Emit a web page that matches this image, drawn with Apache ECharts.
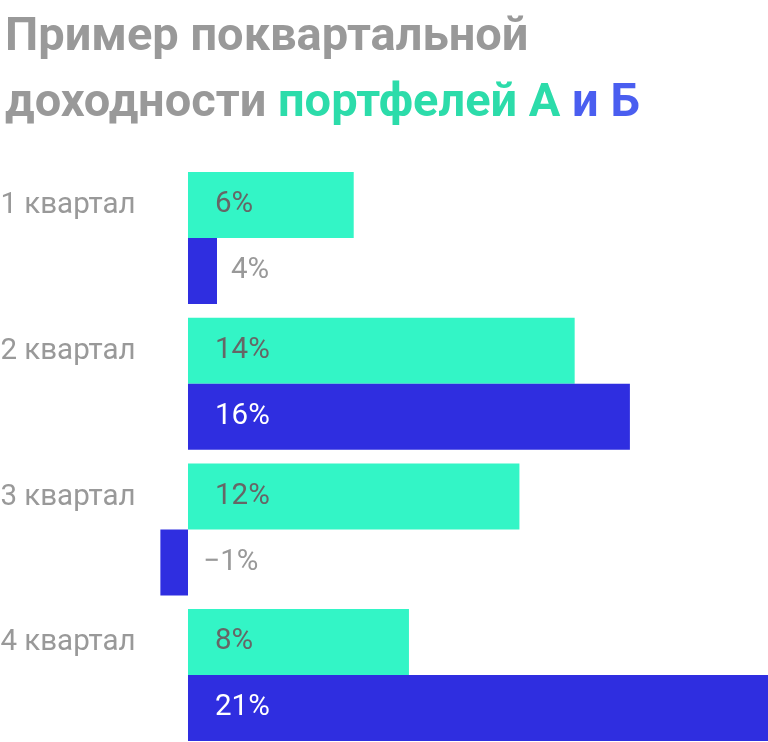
<!DOCTYPE html>
<html lang="ru" style="height: 100%">
  <head>
    <meta charset="utf-8" />
  </head>
  <body style="height: 100%; margin: 0; background: #fff">
    <div id="container" style="width: 768px; height: 742px"></div>

    <script
      type="text/javascript"
      src="https://cdn.jsdelivr.net/npm/echarts@6/dist/echarts.min.js"
    ></script>

    <script type="text/javascript">
      var quarters = ["1 квартал", "2 квартал", "3 квартал", "4 квартал"];
      // bar lengths as drawn in the picture (%)
      var portfolioA = [6, 14, 12, 8];
      var portfolioB = [1.05, 16, -1, 21];
      // texts printed on the bars
      var labelsA = ["6%", "14%", "12%", "8%"];
      var labelsB = ["4%", "16%", "−1%", "21%"];

      var teal = "#33f5c6";
      var blue = "#2f2ee0";

      var dom = document.getElementById("container");
      var myChart = echarts.init(dom, null, { renderer: "canvas" });

      function makeData(values, labels, insideColor) {
        return values.map(function (v, i) {
          var item = { value: v, label: { formatter: labels[i], color: insideColor } };
          if (v > 0 && v < 3) {
            item.label.position = "right";
            item.label.distance = 14;
            item.label.color = "#999";
          } else if (v < 0) {
            item.label.position = "insideLeft";
            item.label.distance = 43;
            item.label.color = "#999";
          }
          return item;
        });
      }

      var labelBase = {
        show: true,
        position: "insideLeft",
        distance: 27,
        fontFamily: "Roboto",
        fontSize: 29.5,
      };

      var option = {
        animation: false,
        title: {
          left: 0,
          top: 0,
          text:
            "{g|Пример поквартальной}\n{g|доходности }{a|портфелей А}{g| }{b|и Б}",
          textStyle: {
            rich: {
              g: { fontFamily: "Roboto", fontWeight: "bold", fontSize: 47, lineHeight: 66, color: "#999999" },
              a: { fontFamily: "Roboto", fontWeight: "bold", fontSize: 47, lineHeight: 66, color: "#2cdcaa" },
              b: { fontFamily: "Roboto", fontWeight: "bold", fontSize: 47, lineHeight: 66, color: "#4a5ef0" },
            },
          },
        },
        grid: {
          left: 160.38,
          width: 607.62,
          top: 165.2,
          height: 582.7,
          outerBoundsMode: "none",
          containLabel: false,
        },
        xAxis: {
          type: "value",
          min: -1,
          max: 21,
          show: false,
        },
        yAxis: {
          type: "category",
          data: quarters,
          inverse: true,
          axisLine: { show: false },
          axisTick: { show: false },
          splitLine: { show: false },
          axisLabel: {
            align: "left",
            margin: 160,
            verticalAlign: "bottom",
            lineHeight: 64,
            fontFamily: "Roboto",
            fontSize: 29.5,
            color: "#999999",
          },
        },
        series: [
          {
            name: "А",
            type: "bar",
            barWidth: 66,
            barGap: "0%",
            itemStyle: { color: teal },
            label: labelBase,
            data: makeData(portfolioA, labelsA, "#666666"),
          },
          {
            name: "Б",
            type: "bar",
            barWidth: 66,
            barGap: "0%",
            itemStyle: { color: blue },
            label: labelBase,
            data: makeData(portfolioB, labelsB, "#ffffff"),
          },
        ],
      };

      myChart.setOption(option);
      window.addEventListener("resize", myChart.resize);
    </script>
  </body>
</html>
